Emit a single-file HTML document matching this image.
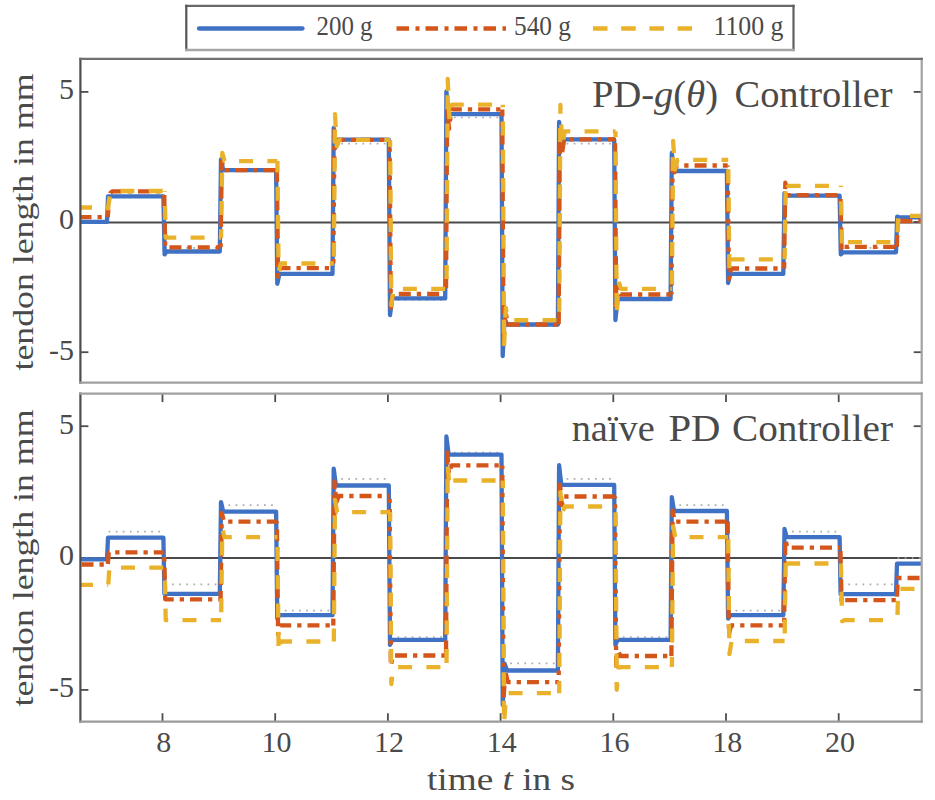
<!DOCTYPE html>
<html><head><meta charset="utf-8"><title>Tendon length chart</title>
<style>html,body{margin:0;padding:0;background:#fff;}svg{display:block;font-family:"Liberation Serif",serif;}</style>
</head><body>
<svg width="935" height="800" viewBox="0 0 935 800">
<defs>
<clipPath id="ct"><rect x="80.4" y="58.9" width="841.3000000000001" height="323.8"/></clipPath>
<clipPath id="cb"><rect x="80.4" y="393.6" width="841.3000000000001" height="328.1"/></clipPath>
</defs>
<rect width="935" height="800" fill="#fff"/>
<g stroke="#4d4d4d" stroke-width="1.8">
<line x1="80.4" y1="91.9" x2="88.4" y2="91.9"/>
<line x1="921.7" y1="91.9" x2="913.7" y2="91.9"/>
<line x1="80.4" y1="222.1" x2="88.4" y2="222.1"/>
<line x1="921.7" y1="222.1" x2="913.7" y2="222.1"/>
<line x1="80.4" y1="352.2" x2="88.4" y2="352.2"/>
<line x1="921.7" y1="352.2" x2="913.7" y2="352.2"/>
<line x1="80.4" y1="426.2" x2="88.4" y2="426.2"/>
<line x1="921.7" y1="426.2" x2="913.7" y2="426.2"/>
<line x1="80.4" y1="558.0" x2="88.4" y2="558.0"/>
<line x1="921.7" y1="558.0" x2="913.7" y2="558.0"/>
<line x1="80.4" y1="689.9" x2="88.4" y2="689.9"/>
<line x1="921.7" y1="689.9" x2="913.7" y2="689.9"/>
<line x1="162.5" y1="721.7" x2="162.5" y2="713.2"/>
<line x1="162.5" y1="393.6" x2="162.5" y2="402.1"/>
<line x1="275.2" y1="721.7" x2="275.2" y2="713.2"/>
<line x1="275.2" y1="393.6" x2="275.2" y2="402.1"/>
<line x1="387.9" y1="721.7" x2="387.9" y2="713.2"/>
<line x1="387.9" y1="393.6" x2="387.9" y2="402.1"/>
<line x1="500.6" y1="721.7" x2="500.6" y2="713.2"/>
<line x1="500.6" y1="393.6" x2="500.6" y2="402.1"/>
<line x1="613.3" y1="721.7" x2="613.3" y2="713.2"/>
<line x1="613.3" y1="393.6" x2="613.3" y2="402.1"/>
<line x1="726.0" y1="721.7" x2="726.0" y2="713.2"/>
<line x1="726.0" y1="393.6" x2="726.0" y2="402.1"/>
<line x1="838.7" y1="721.7" x2="838.7" y2="713.2"/>
<line x1="838.7" y1="393.6" x2="838.7" y2="402.1"/>
</g>
<g clip-path="url(#ct)" fill="none" stroke-linejoin="round" stroke-width="4.3">
<line x1="80.4" y1="222.4" x2="921.7" y2="222.4" stroke="#4a4a4a" stroke-width="2"/>
<path d="M78.9,221.8H105.1M108.6,195.7H161.5M165.0,247.9H217.9M221.4,169.7H274.2M277.7,273.9H330.6M334.1,143.6H386.9M390.4,300.0H443.3M446.8,117.5H499.6M503.1,326.1H556.0M559.5,143.6H612.3M615.8,300.0H668.7M672.2,169.7H725.0M728.5,273.9H781.4M784.9,195.7H837.7M841.2,247.9H894.1M897.6,221.8H924.7" stroke="#ababab" stroke-width="1.7" stroke-dasharray="1.7 5.4"/>
<polyline points="74.4,221.8 107.0,221.8 108.0,196.3 163.4,196.3 164.6,254.4 166.8,251.5 219.8,251.5 221.0,159.5 223.2,170.2 276.1,170.2 277.3,283.8 279.5,273.9 332.5,273.9 333.7,127.9 335.5,147.5 338.0,139.7 388.8,139.7 390.0,315.1 392.2,298.4 445.2,298.4 446.4,91.5 448.6,114.1 501.5,114.1 502.7,356.1 504.5,318.3 507.0,324.5 557.9,324.5 559.1,122.0 561.3,139.4 614.2,139.4 615.4,320.1 617.6,299.0 670.6,299.0 671.8,153.0 674.0,171.0 726.9,171.0 728.1,283.1 730.3,273.9 783.3,273.9 784.5,193.1 786.7,195.7 839.6,195.7 840.8,254.4 843.0,252.3 896.0,252.3 897.2,216.6 899.4,217.4 927.7,217.4" stroke="#3f72c4"/>
<polyline points="74.4,217.1 107.8,217.1" stroke="#d4561a" stroke-dasharray="12 6 4.3 6" stroke-dashoffset="23.20"/>
<polyline points="107.8,217.1 108.4,208.8 109.2,198.3 110.4,193.1 112.3,191.3 164.2,191.3" stroke="#d4561a" stroke-dasharray="12 6 4.3 6" stroke-dashoffset="4.14"/>
<polyline points="164.2,191.3 165.2,247.3 220.6,247.3" stroke="#d4561a" stroke-dasharray="12 6 4.3 6" stroke-dashoffset="24.64"/>
<polyline points="220.6,247.3 221.8,161.8 224.0,170.2 276.9,170.2" stroke="#d4561a" stroke-dasharray="12 6 4.3 6" stroke-dashoffset="8.01"/>
<polyline points="276.9,170.2 278.1,276.5 280.3,268.2 333.3,268.2" stroke="#d4561a" stroke-dasharray="12 6 4.3 6" stroke-dashoffset="0.11"/>
<polyline points="333.3,268.2 334.5,130.6 336.3,147.5 338.8,139.9 389.6,139.9" stroke="#d4561a" stroke-dasharray="12 6 4.3 6" stroke-dashoffset="13.20"/>
<polyline points="389.6,139.9 390.8,307.8 393.0,294.0 446.0,294.0" stroke="#d4561a" stroke-dasharray="12 6 4.3 6" stroke-dashoffset="10.43"/>
<polyline points="446.0,294.0 447.2,104.5 449.0,129.0 451.5,109.4 502.3,109.4" stroke="#d4561a" stroke-dasharray="12 6 4.3 6" stroke-dashoffset="22.55"/>
<polyline points="502.3,109.4 503.5,341.7 505.3,310.4 507.8,324.5 558.7,324.5" stroke="#d4561a" stroke-dasharray="12 6 4.3 6" stroke-dashoffset="5.20"/>
<polyline points="558.7,324.5 559.9,127.9 561.7,155.1 564.2,139.4 615.0,139.4" stroke="#d4561a" stroke-dasharray="12 6 4.3 6" stroke-dashoffset="27.79"/>
<polyline points="615.0,139.4 616.2,310.4 618.0,287.0 620.5,294.5 671.4,294.5" stroke="#d4561a" stroke-dasharray="12 6 4.3 6" stroke-dashoffset="24.51"/>
<polyline points="671.4,294.5 672.6,156.6 674.4,172.3 676.9,165.5 727.7,165.5" stroke="#d4561a" stroke-dasharray="12 6 4.3 6" stroke-dashoffset="19.50"/>
<polyline points="727.7,165.5 728.9,279.2 731.1,268.5 784.1,268.5" stroke="#d4561a" stroke-dasharray="12 6 4.3 6" stroke-dashoffset="20.96"/>
<polyline points="784.1,268.5 785.3,182.7 787.5,195.2 840.4,195.2" stroke="#d4561a" stroke-dasharray="12 6 4.3 6" stroke-dashoffset="5.51"/>
<polyline points="840.4,195.2 841.6,250.5 843.8,246.8 896.8,246.8" stroke="#d4561a" stroke-dasharray="12 6 4.3 6" stroke-dashoffset="14.20"/>
<polyline points="896.8,246.8 897.8,221.0 927.7,221.0" stroke="#d4561a" stroke-dasharray="12 6 4.3 6" stroke-dashoffset="0.00"/>
<polyline points="74.4,207.5 108.3,207.5" stroke="#e9b22a" stroke-dasharray="14 14.3" stroke-dashoffset="24.70"/>
<polyline points="108.3,207.5 107.9,211.4 108.9,200.9 110.1,194.4 112.3,191.0 164.7,191.0" stroke="#e9b22a" stroke-dasharray="14 14.3" stroke-dashoffset="23.37"/>
<polyline points="164.7,191.0 165.7,237.7 221.1,237.7" stroke="#e9b22a" stroke-dasharray="14 14.3" stroke-dashoffset="13.32"/>
<polyline points="221.1,237.7 222.3,153.0 224.5,161.1 277.4,161.1" stroke="#e9b22a" stroke-dasharray="14 14.3" stroke-dashoffset="5.54"/>
<polyline points="277.4,161.1 278.6,271.3 280.8,263.5 333.8,263.5" stroke="#e9b22a" stroke-dasharray="14 14.3" stroke-dashoffset="2.60"/>
<polyline points="333.8,263.5 335.0,114.1 336.8,146.2 339.3,139.9 390.1,139.9" stroke="#e9b22a" stroke-dasharray="14 14.3" stroke-dashoffset="21.42"/>
<polyline points="390.1,139.9 391.3,305.2 393.5,288.8 446.5,288.8" stroke="#e9b22a" stroke-dasharray="14 14.3" stroke-dashoffset="6.86"/>
<polyline points="446.5,288.8 447.7,78.9 449.5,120.1 452.0,104.7 502.8,104.7" stroke="#e9b22a" stroke-dasharray="14 14.3" stroke-dashoffset="18.49"/>
<polyline points="502.8,104.7 504.0,346.9 505.8,307.8 508.3,320.1 559.2,320.1" stroke="#e9b22a" stroke-dasharray="14 14.3" stroke-dashoffset="11.48"/>
<polyline points="559.2,320.1 560.4,105.0 562.2,146.2 564.7,131.3 615.5,131.3" stroke="#e9b22a" stroke-dasharray="14 14.3" stroke-dashoffset="20.00"/>
<polyline points="615.5,131.3 616.7,315.7 618.5,281.8 621.0,288.8 671.9,288.8" stroke="#e9b22a" stroke-dasharray="14 14.3" stroke-dashoffset="8.00"/>
<polyline points="671.9,288.8 673.1,141.0 674.9,169.7 677.4,159.8 728.2,159.8" stroke="#e9b22a" stroke-dasharray="14 14.3" stroke-dashoffset="23.81"/>
<polyline points="728.2,159.8 729.4,271.3 731.6,259.3 784.6,259.3" stroke="#e9b22a" stroke-dasharray="14 14.3" stroke-dashoffset="18.86"/>
<polyline points="784.6,259.3 785.8,180.9 788.0,185.8 840.9,185.8" stroke="#e9b22a" stroke-dasharray="14 14.3" stroke-dashoffset="2.49"/>
<polyline points="840.9,185.8 842.1,247.9 844.3,242.1 897.3,242.1" stroke="#e9b22a" stroke-dasharray="14 14.3" stroke-dashoffset="12.85"/>
<polyline points="897.3,242.1 898.3,215.8 927.7,215.8" stroke="#e9b22a" stroke-dasharray="14 14.3" stroke-dashoffset="18.55"/>
</g>
<g clip-path="url(#cb)" fill="none" stroke-linejoin="round" stroke-width="4.3">
<line x1="80.4" y1="558.1" x2="921.7" y2="558.1" stroke="#4a4a4a" stroke-width="2"/>
<path d="M78.9,558.0H105.1M108.6,531.6H161.5M165.0,584.3H217.9M221.4,505.2H274.2M277.7,610.7H330.6M334.1,478.9H386.9M390.4,637.0H443.3M446.8,452.5H499.6M503.1,663.4H556.0M559.5,478.9H612.3M615.8,637.0H668.7M672.2,505.2H725.0M728.5,610.7H781.4M784.9,531.6H837.7M841.2,584.3H894.1M897.6,558.0H924.7" stroke="#ababab" stroke-width="1.7" stroke-dasharray="1.7 5.4"/>
<polyline points="74.4,559.3 107.0,559.3 108.0,537.7 163.4,537.7 164.4,593.8 219.8,593.8 221.0,502.1 223.2,511.6 276.1,511.6 277.3,618.6 279.5,615.2 332.5,615.2 333.7,468.6 335.9,485.5 388.8,485.5 390.0,644.9 392.2,639.9 445.2,639.9 446.4,436.4 448.6,454.6 501.5,454.6 502.7,705.0 504.5,663.4 507.0,670.5 557.9,670.5 559.1,465.2 561.3,484.9 614.2,484.9 615.4,644.9 617.6,639.9 670.6,639.9 671.8,497.1 674.0,511.0 726.9,511.0 728.1,618.6 730.3,615.2 783.3,615.2 784.5,529.0 786.7,537.1 839.6,537.1 840.6,594.1 896.0,594.1 897.0,563.7 927.7,563.7" stroke="#3f72c4"/>
<polyline points="74.4,564.5 107.8,564.5" stroke="#d4561a" stroke-dasharray="12 6 4.3 6" stroke-dashoffset="21.20"/>
<polyline points="107.8,564.5 108.8,552.4 164.2,552.4" stroke="#d4561a" stroke-dasharray="12 6 4.3 6" stroke-dashoffset="27.78"/>
<polyline points="164.2,552.4 165.2,599.3 220.6,599.3" stroke="#d4561a" stroke-dasharray="12 6 4.3 6" stroke-dashoffset="13.17"/>
<polyline points="220.6,599.3 221.8,513.1 224.0,521.6 276.9,521.6" stroke="#d4561a" stroke-dasharray="12 6 4.3 6" stroke-dashoffset="3.73"/>
<polyline points="276.9,521.6 278.1,634.4 280.3,625.4 333.3,625.4" stroke="#d4561a" stroke-dasharray="12 6 4.3 6" stroke-dashoffset="20.55"/>
<polyline points="333.3,625.4 334.5,481.5 336.3,502.6 338.8,496.0 389.6,496.0" stroke="#d4561a" stroke-dasharray="12 6 4.3 6" stroke-dashoffset="5.22"/>
<polyline points="389.6,496.0 390.8,666.0 393.0,655.5 446.0,655.5" stroke="#d4561a" stroke-dasharray="12 6 4.3 6" stroke-dashoffset="15.32"/>
<polyline points="446.0,655.5 447.2,452.5 449.0,473.6 451.5,465.4 502.3,465.4" stroke="#d4561a" stroke-dasharray="12 6 4.3 6" stroke-dashoffset="25.28"/>
<polyline points="502.3,465.4 503.5,699.5 505.3,671.3 507.8,682.1 558.7,682.1" stroke="#d4561a" stroke-dasharray="12 6 4.3 6" stroke-dashoffset="18.69"/>
<polyline points="558.7,682.1 559.9,481.5 561.7,505.2 564.2,496.5 615.0,496.5" stroke="#d4561a" stroke-dasharray="12 6 4.3 6" stroke-dashoffset="10.93"/>
<polyline points="615.0,496.5 616.2,666.0 618.0,650.2 620.5,656.0 671.4,656.0" stroke="#d4561a" stroke-dasharray="12 6 4.3 6" stroke-dashoffset="10.20"/>
<polyline points="671.4,656.0 672.6,510.5 674.8,521.6 727.7,521.6" stroke="#d4561a" stroke-dasharray="12 6 4.3 6" stroke-dashoffset="1.29"/>
<polyline points="727.7,521.6 728.9,634.4 731.1,625.4 784.1,625.4" stroke="#d4561a" stroke-dasharray="12 6 4.3 6" stroke-dashoffset="0.08"/>
<polyline points="784.1,625.4 785.3,539.5 787.5,547.7 840.4,547.7" stroke="#d4561a" stroke-dasharray="12 6 4.3 6" stroke-dashoffset="14.59"/>
<polyline points="840.4,547.7 841.6,602.8 843.8,600.1 896.8,600.1" stroke="#d4561a" stroke-dasharray="12 6 4.3 6" stroke-dashoffset="24.91"/>
<polyline points="896.8,600.1 897.8,578.0 927.7,578.0" stroke="#d4561a" stroke-dasharray="12 6 4.3 6" stroke-dashoffset="24.74"/>
<polyline points="74.4,584.8 108.3,584.8" stroke="#e9b22a" stroke-dasharray="14 14.3" stroke-dashoffset="23.70"/>
<polyline points="108.3,584.8 109.3,567.7 164.7,567.7" stroke="#e9b22a" stroke-dasharray="14 14.3" stroke-dashoffset="27.78"/>
<polyline points="164.7,567.7 165.7,620.2 221.1,620.2" stroke="#e9b22a" stroke-dasharray="14 14.3" stroke-dashoffset="15.63"/>
<polyline points="221.1,620.2 222.3,529.0 224.5,537.1 277.4,537.1" stroke="#e9b22a" stroke-dasharray="14 14.3" stroke-dashoffset="20.28"/>
<polyline points="277.4,537.1 278.6,652.1 280.8,641.5 333.8,641.5" stroke="#e9b22a" stroke-dasharray="14 14.3" stroke-dashoffset="18.40"/>
<polyline points="333.8,641.5 335.0,500.0 337.2,512.1 390.1,512.1" stroke="#e9b22a" stroke-dasharray="14 14.3" stroke-dashoffset="1.08"/>
<polyline points="390.1,512.1 391.3,684.0 393.5,667.1 446.5,667.1" stroke="#e9b22a" stroke-dasharray="14 14.3" stroke-dashoffset="4.53"/>
<polyline points="446.5,667.1 447.7,465.7 449.5,486.8 452.0,480.5 502.8,480.5" stroke="#e9b22a" stroke-dasharray="14 14.3" stroke-dashoffset="24.11"/>
<polyline points="502.8,480.5 504.0,724.0 506.2,693.2 559.2,693.2" stroke="#e9b22a" stroke-dasharray="14 14.3" stroke-dashoffset="6.24"/>
<polyline points="559.2,693.2 560.4,492.1 562.2,513.1 564.7,506.5 615.5,506.5" stroke="#e9b22a" stroke-dasharray="14 14.3" stroke-dashoffset="2.03"/>
<polyline points="615.5,506.5 616.7,689.8 618.9,667.1 671.9,667.1" stroke="#e9b22a" stroke-dasharray="14 14.3" stroke-dashoffset="22.65"/>
<polyline points="671.9,667.1 673.1,526.3 675.3,537.1 728.2,537.1" stroke="#e9b22a" stroke-dasharray="14 14.3" stroke-dashoffset="3.79"/>
<polyline points="728.2,537.1 729.4,654.2 731.6,641.0 784.6,641.0" stroke="#e9b22a" stroke-dasharray="14 14.3" stroke-dashoffset="26.03"/>
<polyline points="784.6,641.0 785.8,555.3 788.0,563.5 840.9,563.5" stroke="#e9b22a" stroke-dasharray="14 14.3" stroke-dashoffset="20.85"/>
<polyline points="840.9,563.5 842.1,621.2 844.3,620.2 897.3,620.2" stroke="#e9b22a" stroke-dasharray="14 14.3" stroke-dashoffset="0.07"/>
<polyline points="897.3,620.2 898.3,588.8 927.7,588.8" stroke="#e9b22a" stroke-dasharray="14 14.3" stroke-dashoffset="23.02"/>
</g>
<g fill="none" stroke-width="2.2" stroke-linecap="square">
<line x1="80.4" y1="58.9" x2="80.4" y2="382.7" stroke="#4d4d4d"/>
<line x1="921.7" y1="58.9" x2="921.7" y2="382.7" stroke="#a3a3a3"/>
<line x1="80.4" y1="393.6" x2="80.4" y2="721.7" stroke="#4d4d4d"/>
<line x1="921.7" y1="393.6" x2="921.7" y2="721.7" stroke="#a3a3a3"/>
<line x1="80.4" y1="58.9" x2="921.7" y2="58.9" stroke="#707070"/>
<line x1="80.4" y1="382.7" x2="921.7" y2="382.7" stroke="#a0a0a0"/>
<line x1="80.4" y1="393.6" x2="921.7" y2="393.6" stroke="#a0a0a0"/>
<line x1="80.4" y1="721.7" x2="921.7" y2="721.7" stroke="#9a9a9a"/>
</g>
<g font-family="Liberation Serif, serif" font-size="30" fill="#4a4a4a">
<text x="74" y="99.2" text-anchor="end">5</text>
<text x="74" y="229.4" text-anchor="end">0</text>
<text x="74" y="359.5" text-anchor="end">-5</text>
<text x="74" y="433.5" text-anchor="end">5</text>
<text x="74" y="565.3" text-anchor="end">0</text>
<text x="74" y="697.2" text-anchor="end">-5</text>
<text x="163.7" y="752.3" text-anchor="middle">8</text>
<text x="276.4" y="752.3" text-anchor="middle">10</text>
<text x="389.1" y="752.3" text-anchor="middle">12</text>
<text x="501.8" y="752.3" text-anchor="middle">14</text>
<text x="614.5" y="752.3" text-anchor="middle">16</text>
<text x="727.2" y="752.3" text-anchor="middle">18</text>
<text x="839.9" y="752.3" text-anchor="middle">20</text>
</g>
<g font-family="Liberation Serif, serif" fill="#4a4a4a">
<text transform="translate(33.3,222) rotate(-90)" text-anchor="middle" font-size="30" textLength="297" lengthAdjust="spacingAndGlyphs">tendon length in mm</text>
<text transform="translate(33.3,558) rotate(-90)" text-anchor="middle" font-size="30" textLength="297" lengthAdjust="spacingAndGlyphs">tendon length in mm</text>
<text x="501" y="789.7" text-anchor="middle" font-size="31" textLength="148" lengthAdjust="spacingAndGlyphs">time <tspan font-style="italic">t</tspan> in s</text>
<text x="592" y="107.2" font-size="38.5" textLength="126" lengthAdjust="spacingAndGlyphs">PD-<tspan font-style="italic">g</tspan>(<tspan font-style="italic">θ</tspan>)</text>
<text x="734.5" y="107.2" font-size="38.5" textLength="158" lengthAdjust="spacingAndGlyphs">Controller</text>
<text x="571.7" y="441.2" font-size="38.5" textLength="83" lengthAdjust="spacingAndGlyphs">naïve</text>
<text x="668.5" y="441.2" font-size="38.5" textLength="52" lengthAdjust="spacingAndGlyphs">PD</text>
<text x="732" y="441.2" font-size="38.5" textLength="161" lengthAdjust="spacingAndGlyphs">Controller</text>
</g>
<g>
<rect x="186.3" y="6" width="607.2" height="43.5" fill="#fff" stroke="none"/>
<g stroke-width="2.2" stroke-linecap="square">
<line x1="186.3" y1="5.9" x2="793.5" y2="5.9" stroke="#686868" stroke-width="2.4"/>
<line x1="186.3" y1="5.9" x2="186.3" y2="50" stroke="#555"/>
<line x1="793.5" y1="5.9" x2="793.5" y2="50" stroke="#5f5f5f"/>
<line x1="186.3" y1="50" x2="793.5" y2="50" stroke="#a6a6a6" stroke-width="2.6"/>
</g>
<line x1="199" y1="28.5" x2="302.5" y2="28.5" stroke="#3f72c4" stroke-width="4.3" stroke-linecap="round"/>
<line x1="396.5" y1="28.5" x2="506" y2="28.5" stroke="#d4561a" stroke-width="4.3" stroke-dasharray="12.5 6.5 4 6"/>
<line x1="593" y1="28.5" x2="692" y2="28.5" stroke="#e9b22a" stroke-width="4.3" stroke-dasharray="14.5 13.7"/>
<g font-family="Liberation Serif, serif" font-size="27" fill="#4a4a4a">
<text x="316.5" y="35" textLength="56" lengthAdjust="spacingAndGlyphs">200 g</text>
<text x="514" y="35" textLength="57" lengthAdjust="spacingAndGlyphs">540 g</text>
<text x="713.5" y="35" textLength="70" lengthAdjust="spacingAndGlyphs">1100 g</text>
</g></g>
</svg>
</body></html>
